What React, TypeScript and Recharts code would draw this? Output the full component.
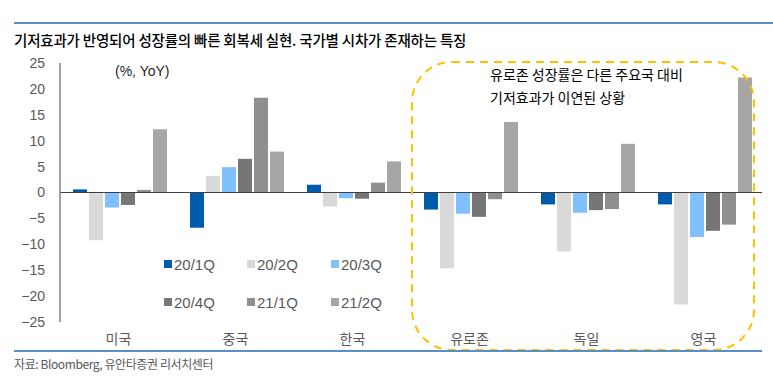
import React from 'react';
import { BarChart, Bar, XAxis, YAxis, ReferenceLine } from 'recharts';

const countries = ['미국', '중국', '한국', '유로존', '독일', '영국'];
const q20_1 = [0.6, -6.8, 1.5, -3.3, -2.3, -2.3];
const q20_2 = [-9.2, 3.2, -2.7, -14.6, -11.4, -21.6];
const q20_3 = [-2.9, 4.9, -1.1, -4.1, -3.9, -8.6];
const q20_4 = [-2.4, 6.5, -1.2, -4.7, -3.4, -7.4];
const q21_1 = [0.5, 18.3, 1.9, -1.3, -3.2, -6.2];
const q21_2 = [12.2, 7.9, 6.0, 13.6, 9.4, 22.2];
const yTicks = [-25, -20, -15, -10, -5, 0, 5, 10, 15, 20, 25];

const series = [
  { key: 'q20_1', name: '20/1Q', color: '#005BAC', values: q20_1 },
  { key: 'q20_2', name: '20/2Q', color: '#D9D9D9', values: q20_2 },
  { key: 'q20_3', name: '20/3Q', color: '#80C0FF', values: q20_3 },
  { key: 'q20_4', name: '20/4Q', color: '#767676', values: q20_4 },
  { key: 'q21_1', name: '21/1Q', color: '#8F8F8F', values: q21_1 },
  { key: 'q21_2', name: '21/2Q', color: '#A6A6A6', values: q21_2 },
];

const data = countries.map((c, i) => {
  const row: Record<string, any> = { name: c };
  series.forEach((s) => (row[s.key] = s.values[i]));
  return row;
});

const FONT = '"Liberation Sans", "Noto Sans CJK KR", sans-serif';
const KFONT = '"Noto Sans CJK KR", sans-serif';

// legend drawn as overlay so it doesn't eat into the plot area
function LegendGrid() {
  return (
    <div
      style={{
        position: 'absolute',
        left: 164,
        top: 254,
        display: 'grid',
        gridTemplateColumns: '83px 84px 84px',
        rowGap: 18,
        fontFamily: FONT,
        fontSize: 15,
        color: '#595959',
      }}
    >
      {series.map((s) => (
        <div key={s.key} style={{ display: 'flex', alignItems: 'center', height: 20 }}>
          <span style={{ width: 8, height: 8, background: s.color, marginRight: 2, display: 'inline-block' }} />
          {s.name}
        </div>
      ))}
    </div>
  );
}

export default function App() {
  return (
    <div style={{ position: 'relative', width: 773, height: 391, background: '#fff', fontFamily: KFONT }}>
      <style>{'body{margin:0}'}</style>
      <div style={{ position: 'absolute', left: 14, top: 22, width: 759, height: 2, background: '#5B8DC8' }} />
      <div style={{ position: 'absolute', left: 14, top: 29, fontSize: 14.5, fontWeight: 500, color: '#000', whiteSpace: 'nowrap', letterSpacing: -0.2 }}>
        기저효과가 반영되어 성장률의 빠른 회복세 실현. 국가별 시차가 존재하는 특징
      </div>
      <BarChart
        width={773}
        height={391}
        data={data}
        margin={{ top: 63, right: 11, left: 0, bottom: 39 }}
        barCategoryGap={13}
        barGap={2}
        style={{ position: 'absolute', left: 0, top: 0 }}
      >
        <YAxis
          domain={[-25, 25]}
          ticks={yTicks}
          interval={0}
          width={60}
          axisLine={{ stroke: '#808080', strokeWidth: 1.5 }}
          tickLine={false}
          tickMargin={9}
          tick={{ fill: '#595959', fontSize: 14, fontFamily: FONT }}
          tickFormatter={(v: number) => String(v).replace('-', '−')}
        />
        <XAxis
          dataKey="name"
          axisLine={false}
          tickLine={false}
          height={30}
          tick={{ fill: '#595959', fontSize: 14, fontFamily: KFONT }}
          tickMargin={6}
        />
        <ReferenceLine y={0} stroke="#404040" strokeWidth={1.2} />
        {series.map((s) => (
          <Bar key={s.key} dataKey={s.key} name={s.name} fill={s.color} isAnimationActive={false} />
        ))}
      </BarChart>
      <LegendGrid />
      <svg width={773} height={391} style={{ position: 'absolute', left: 0, top: 0, pointerEvents: 'none' }}>
        <rect x={412} y={62} width={342} height={288} rx={40} ry={40} fill="none" stroke="#FFC000" strokeWidth={2} strokeDasharray="8 6" />
      </svg>
      <div style={{ position: 'absolute', left: 115, top: 63, fontFamily: FONT, fontSize: 14, color: '#262626' }}>(%, YoY)</div>
      <div style={{ position: 'absolute', left: 490, top: 63, fontSize: 14, color: '#000', lineHeight: '23px' }}>
        유로존 성장률은 다른 주요국 대비
        <br />
        기저효과가 이연된 상황
      </div>
      <div style={{ position: 'absolute', left: 14, top: 350, width: 748, height: 2, background: '#5B8DC8' }} />
      <div style={{ position: 'absolute', left: 14, top: 355, fontSize: 12, color: '#595959', whiteSpace: 'nowrap', letterSpacing: -0.4 }}>
        자료: Bloomberg, 유안타증권 리서치센터
      </div>
    </div>
  );
}
